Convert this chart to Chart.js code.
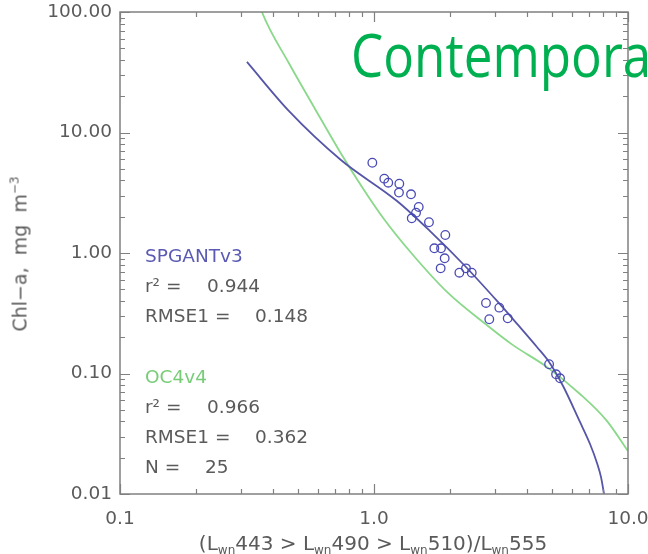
<!DOCTYPE html>
<html><head><meta charset="utf-8">
<script src="https://cdn.jsdelivr.net/npm/chart.js@4.4.0/dist/chart.umd.min.js"></script>
<style>
html,body{margin:0;padding:0;background:#fff;overflow:hidden;width:648px;height:554px;}
#wrap{position:relative;width:648px;height:554px;overflow:hidden;}
canvas{position:absolute;left:0;top:0;}
.t{position:absolute;font-family:"DejaVu Sans";font-size:18.5px;color:#5a5a5a;white-space:nowrap;line-height:1;transform:translateY(-50%);}
.big{position:absolute;left:351px;top:24px;font-family:"Open Sans";font-size:60px;line-height:1;color:#00b050;white-space:nowrap;transform:scaleX(0.853);transform-origin:0 0;}
.sub{font-size:12px;position:relative;top:4px;}
</style></head>
<body><div id="wrap"><canvas id="c" width="648" height="554"></canvas>
<div class="t" style="left:145px;top:256px;color:#5a5ab4">SPGANTv3</div>
<div class="t" style="left:145px;top:286px">r² =</div><div class="t" style="left:207px;top:286px">0.944</div>
<div class="t" style="left:145px;top:316px">RMSE1 =</div><div class="t" style="left:255px;top:316px">0.148</div>
<div class="t" style="left:145px;top:377px;color:#77cc77">OC4v4</div>
<div class="t" style="left:145px;top:407px">r² =</div><div class="t" style="left:207px;top:407px">0.966</div>
<div class="t" style="left:145px;top:437px">RMSE1 =</div><div class="t" style="left:255px;top:437px">0.362</div>
<div class="t" style="left:145px;top:467px">N =</div><div class="t" style="left:205px;top:467px">25</div>
<div class="t" id="xt" style="left:373px;top:543px;font-size:20px;transform:translate(-50%,-50%)">(L<span class="sub">wn</span>443 &gt; L<span class="sub">wn</span>490 &gt; L<span class="sub">wn</span>510)/L<span class="sub">wn</span>555</div>
<div class="t" id="yt" style="left:20px;top:254px;font-size:19px;transform:translate(-50%,-50%) rotate(-90deg)">Chl−a,&nbsp; mg&nbsp; m<span style="font-size:12px;position:relative;top:-8px">−3</span></div>
<div class="big">Contemporary</div>
</div>
<script>
const xTickValues = [0.1, 1, 10];
const xTickLabels = ['0.1', '1.0', '10.0'];
const yTickValues = [0.01, 0.1, 1, 10, 100];
const yTickLabels = ['0.01', '0.10', '1.00', '10.00', '100.00'];

// observations (N = 25)
const obsX = [0.985,1.098,1.138,1.258,1.254,1.399,1.50,1.464,1.408,1.646,1.909,1.728,1.836,1.898,1.83,2.168,2.302,2.425,2.76,3.114,2.844,3.36,4.89,5.21,5.40];
const obsY = [5.61,4.14,3.83,3.76,3.17,3.07,2.41,2.16,1.94,1.80,1.41,1.094,1.094,0.904,0.746,0.686,0.746,0.686,0.385,0.352,0.282,0.287,0.1193,0.0985,0.0912];

// SPGANTv3 curve
const spgX = [0.316,0.462,0.741,1.232,1.662,2.282,3.05,3.66,4.38,4.89,5.55,6.47,7.087,7.55,7.83,8.045,8.19];
const spgY = [38.5,15.1,5.91,2.70,1.52,0.780,0.400,0.258,0.166,0.1246,0.0787,0.0396,0.026,0.0181,0.0138,0.01,0.00795];

// OC4v4 curve
const oc4X = [0.35,0.362,0.462,0.580,0.735,0.913,1.094,1.424,1.956,2.81,3.526,4.80,6.47,8.27,10];
const oc4Y = [125,100,37.7,16.3,6.89,3.33,1.915,0.962,0.466,0.248,0.172,0.113,0.0676,0.0403,0.0227];

const pts = (xs, ys) => xs.map((x, i) => ({x, y: ys[i]}));
const lab = (vals, labs) => v => { const i = vals.findIndex(t => Math.abs(t - v) / t < 1e-6); return i >= 0 ? labs[i] : ''; };

const frame = {
  id: 'frame',
  afterDatasetsDraw(chart) {
    const {ctx, chartArea: a, scales: {x, y}} = chart;
    ctx.save();
    ctx.strokeStyle = '#808080';
    ctx.lineWidth = 1.5;
    ctx.strokeRect(a.left, a.top, a.right - a.left, a.bottom - a.top);
    ctx.lineWidth = 1.2;
    ctx.beginPath();
    for (let d = 0; d < xTickValues.length; d++) {
      const base = xTickValues[d];
      for (let m = 1; m <= 9; m++) {
        const v = base * m;
        if (v > x.max * 1.0001) break;
        const px = Math.round(x.getPixelForValue(v)) + 0.5;
        const len = m === 1 ? 10 : 5;
        ctx.moveTo(px, a.bottom); ctx.lineTo(px, a.bottom - len);
        ctx.moveTo(px, a.top); ctx.lineTo(px, a.top + len);
      }
    }
    for (let d = 0; d < yTickValues.length; d++) {
      const base = yTickValues[d];
      for (let m = 1; m <= 9; m++) {
        const v = base * m;
        if (v > y.max * 1.0001) break;
        const py = Math.round(y.getPixelForValue(v)) + 0.5;
        const len = m === 1 ? 10 : 5;
        ctx.moveTo(a.left, py); ctx.lineTo(a.left + len, py);
        ctx.moveTo(a.right, py); ctx.lineTo(a.right - len, py);
      }
    }
    ctx.stroke();
    ctx.restore();
  }
};

const tickFont = {family: 'DejaVu Sans', size: 18.5};

new Chart(document.getElementById('c'), {
  type: 'scatter',
  data: {
    datasets: [
      {label: 'obs', data: pts(obsX, obsY), showLine: false, pointRadius: 4.3, pointBorderWidth: 1.3,
       pointBorderColor: '#4a4ab4', pointBackgroundColor: 'rgba(0,0,0,0)', order: 0},
      {label: 'SPGANTv3', data: pts(spgX, spgY), showLine: true, pointRadius: 0, borderColor: '#5656a8',
       borderWidth: 1.8, cubicInterpolationMode: 'monotone', order: 1},
      {label: 'OC4v4', data: pts(oc4X, oc4Y), showLine: true, pointRadius: 0, borderColor: '#8ad88a',
       borderWidth: 1.8, cubicInterpolationMode: 'monotone', order: 2}
    ]
  },
  options: {
    responsive: false, animation: false, devicePixelRatio: 1,
    layout: {padding: {left: 0, right: 20, top: 12, bottom: 0}},
    plugins: {legend: {display: false}, tooltip: {enabled: false}},
    scales: {
      x: {
        type: 'logarithmic', min: 0.1, max: 10, position: 'bottom',
        grid: {display: false, drawTicks: false}, border: {display: false},
        ticks: {padding: 14, font: tickFont, color: '#5a5a5a', autoSkip: false, maxRotation: 0,
                callback: lab(xTickValues, xTickLabels)},
        afterBuildTicks: s => { s.ticks = xTickValues.map(v => ({value: v})); },
        afterFit: s => { s.height = 554 - 494; s.paddingLeft = 0; s.paddingRight = 0; }
      },
      y: {
        type: 'logarithmic', min: 0.01, max: 100, position: 'left',
        grid: {display: false, drawTicks: false}, border: {display: false},
        ticks: {padding: 8, font: tickFont, color: '#5a5a5a', autoSkip: false,
                callback: lab(yTickValues, yTickLabels)},
        afterBuildTicks: s => { s.ticks = yTickValues.map(v => ({value: v})); },
        afterFit: s => { s.width = 120; s.paddingTop = 0; s.paddingBottom = 0; }
      }
    }
  },
  plugins: [frame]
});
</script>
</body></html>
